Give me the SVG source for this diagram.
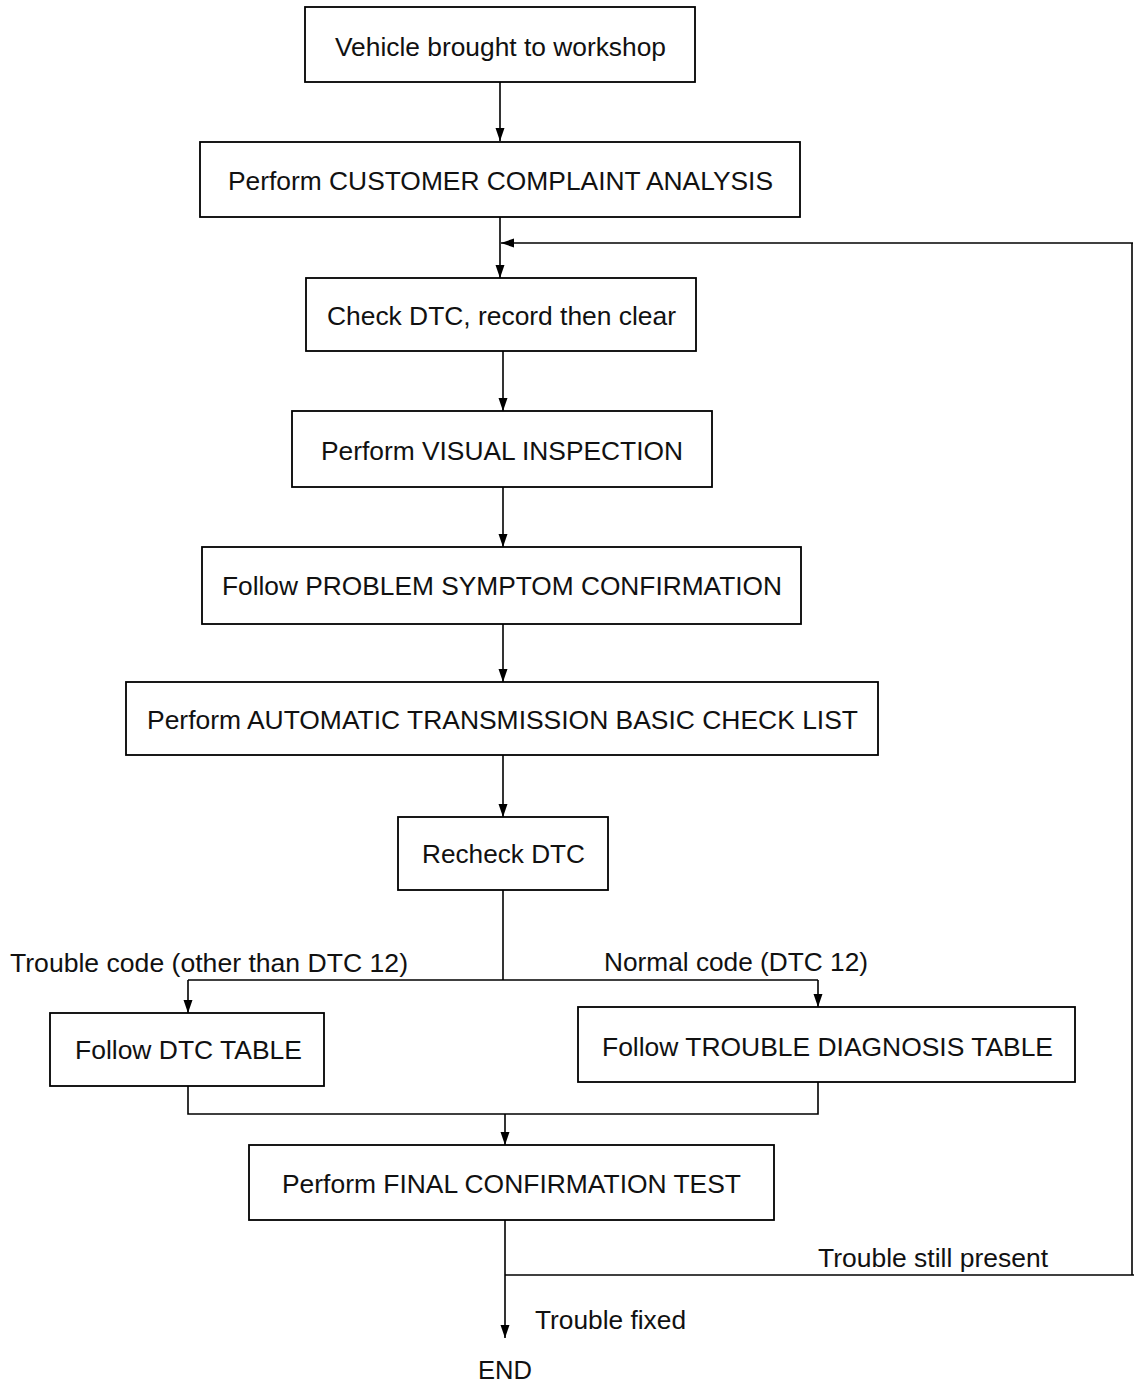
<svg xmlns="http://www.w3.org/2000/svg" width="1134" height="1386" viewBox="0 0 1134 1386">
<style>
.box{fill:#fff;stroke:#000;stroke-width:1.8}
.t{font-family:"Liberation Sans",Arial,sans-serif;font-size:25px;fill:#111}
.ln{fill:none;stroke:#000;stroke-width:1.6}
</style>
<defs>
<marker id="ah" markerUnits="userSpaceOnUse" markerWidth="13" markerHeight="10" refX="13" refY="4.5" orient="auto">
<path d="M0,0 L13,4.5 L0,9 z" fill="#000"/>
</marker>
</defs>
<rect width="1134" height="1386" fill="#fff"/>
<g id="connectors">
<line class="ln" x1="500" y1="82" x2="500" y2="141" marker-end="url(#ah)"/>
<line class="ln" x1="500" y1="217" x2="500" y2="278" marker-end="url(#ah)"/>
<line class="ln" x1="1133" y1="243" x2="501" y2="243" marker-end="url(#ah)"/>
<line class="ln" x1="1132" y1="243" x2="1132" y2="1275"/>
<line class="ln" x1="503" y1="351" x2="503" y2="411" marker-end="url(#ah)"/>
<line class="ln" x1="503" y1="487" x2="503" y2="547" marker-end="url(#ah)"/>
<line class="ln" x1="503" y1="624" x2="503" y2="682" marker-end="url(#ah)"/>
<line class="ln" x1="503" y1="755" x2="503" y2="817" marker-end="url(#ah)"/>
<line class="ln" x1="503" y1="890" x2="503" y2="980"/>
<line class="ln" x1="188" y1="980" x2="818" y2="980"/>
<line class="ln" x1="188" y1="980" x2="188" y2="1013" marker-end="url(#ah)"/>
<line class="ln" x1="818" y1="980" x2="818" y2="1007" marker-end="url(#ah)"/>
<polyline class="ln" points="188,1086 188,1114 818,1114 818,1082"/>
<line class="ln" x1="505" y1="1114" x2="505" y2="1145" marker-end="url(#ah)"/>
<line class="ln" x1="505" y1="1220" x2="505" y2="1338" marker-end="url(#ah)"/>
<line class="ln" x1="505" y1="1275" x2="1134" y2="1275"/>
</g>
<g id="n1"><rect class="box" x="305" y="7" width="390" height="75"/><text class="t" x="335" y="56" textLength="331" lengthAdjust="spacingAndGlyphs">Vehicle brought to workshop</text></g>
<g id="n2"><rect class="box" x="200" y="142" width="600" height="75"/><text class="t" x="228" y="190" textLength="545" lengthAdjust="spacingAndGlyphs">Perform CUSTOMER COMPLAINT ANALYSIS</text></g>
<g id="n3"><rect class="box" x="306" y="278" width="390" height="73"/><text class="t" x="327" y="325" textLength="349" lengthAdjust="spacingAndGlyphs">Check DTC, record then clear</text></g>
<g id="n4"><rect class="box" x="292" y="411" width="420" height="76"/><text class="t" x="321" y="460" textLength="362" lengthAdjust="spacingAndGlyphs">Perform VISUAL INSPECTION</text></g>
<g id="n5"><rect class="box" x="202" y="547" width="599" height="77"/><text class="t" x="222" y="595" textLength="560" lengthAdjust="spacingAndGlyphs">Follow PROBLEM SYMPTOM CONFIRMATION</text></g>
<g id="n6"><rect class="box" x="126" y="682" width="752" height="73"/><text class="t" x="147" y="729" textLength="711" lengthAdjust="spacingAndGlyphs">Perform AUTOMATIC TRANSMISSION BASIC CHECK LIST</text></g>
<g id="n7"><rect class="box" x="398" y="817" width="210" height="73"/><text class="t" x="422" y="863" textLength="163" lengthAdjust="spacingAndGlyphs">Recheck DTC</text></g>
<g id="lbl-trouble"><text class="t" x="10" y="972" textLength="398" lengthAdjust="spacingAndGlyphs">Trouble code (other than DTC 12)</text></g>
<g id="lbl-normal"><text class="t" x="604" y="971" textLength="264" lengthAdjust="spacingAndGlyphs">Normal code (DTC 12)</text></g>
<g id="n8"><rect class="box" x="50" y="1013" width="274" height="73"/><text class="t" x="75" y="1059" textLength="227" lengthAdjust="spacingAndGlyphs">Follow DTC TABLE</text></g>
<g id="n9"><rect class="box" x="578" y="1007" width="497" height="75"/><text class="t" x="602" y="1056" textLength="451" lengthAdjust="spacingAndGlyphs">Follow TROUBLE DIAGNOSIS TABLE</text></g>
<g id="n10"><rect class="box" x="249" y="1145" width="525" height="75"/><text class="t" x="282" y="1193" textLength="459" lengthAdjust="spacingAndGlyphs">Perform FINAL CONFIRMATION TEST</text></g>
<g id="lbl-still"><text class="t" x="818" y="1267" textLength="230" lengthAdjust="spacingAndGlyphs">Trouble still present</text></g>
<g id="lbl-fixed"><text class="t" x="535" y="1329" textLength="151" lengthAdjust="spacingAndGlyphs">Trouble fixed</text></g>
<g id="end"><text class="t" x="478" y="1379" textLength="54" lengthAdjust="spacingAndGlyphs">END</text></g>
</svg>
